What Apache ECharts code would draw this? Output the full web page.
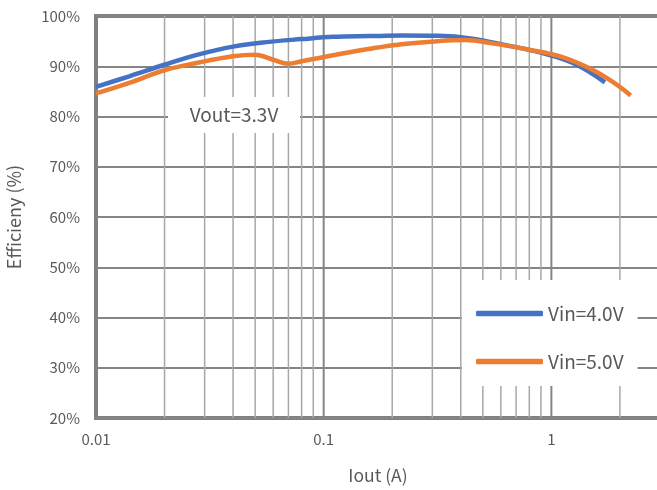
<!DOCTYPE html>
<html>
<head>
<meta charset="utf-8">
<script src="https://cdn.jsdelivr.net/npm/echarts@6/dist/echarts.min.js"></script>
<style>
  html, body { margin: 0; padding: 0; background: #fff; }
  #chart { width: 657px; height: 490px; }
</style>
</head>
<body>
<div id="chart"></div>
<script>
// Output current (A) sample points and efficiency (%) for each input voltage
const iout40 = [0.01, 0.014, 0.02, 0.028, 0.04, 0.056, 0.08, 0.11, 0.16, 0.22, 0.32, 0.45, 0.63, 0.9, 1.25, 1.72];
const eff40  = [85.9, 88.0, 90.3, 92.3, 93.9, 94.8, 95.4, 95.85, 96.0, 96.1, 96.05, 95.5, 94.2, 92.7, 90.6, 86.8];

const iout50 = [0.01, 0.014, 0.02, 0.028, 0.04, 0.05, 0.06, 0.07, 0.08, 0.11, 0.16, 0.22, 0.32, 0.42, 0.56, 0.8, 1.1, 1.5, 1.9, 2.23];
const eff50  = [84.6, 86.7, 89.2, 90.7, 92.0, 92.3, 91.3, 90.5, 91.0, 92.2, 93.5, 94.4, 95.0, 95.2, 94.5, 93.3, 91.9, 89.4, 86.6, 84.2];

const seriesNames = ['Vin=4.0V', 'Vin=5.0V'];

// Log-axis grid positions
const decadeTicks = [0.01, 0.1, 1];
const minorTicks = [0.02, 0.03, 0.04, 0.05, 0.06, 0.07, 0.08, 0.09,
                    0.2, 0.3, 0.4, 0.5, 0.6, 0.7, 0.8, 0.9, 2];
const xTickLabels = ['0.01', '0.1', '1'];

const Y_MIN = 20, Y_MAX = 100;
const FONT = "'Noto Sans CJK JP', 'Noto Sans', sans-serif";
const TEXT_COLOR = '#595959';

const zip = (xs, ys) => xs.map((x, i) => [x, ys[i]]);

const chart = echarts.init(document.getElementById('chart'), null, { renderer: 'canvas' });

// vertical grid lines drawn through the axis scales
function vLine(color, width) {
  return function (params, api) {
    const x = api.value(0);
    const p0 = api.coord([x, Y_MIN]);
    const p1 = api.coord([x, Y_MAX]);
    return {
      type: 'line',
      shape: { x1: p0[0], y1: p0[1], x2: p1[0], y2: p1[1] },
      style: { stroke: color, lineWidth: width },
      silent: true
    };
  };
}

const option = {
  backgroundColor: '#ffffff',
  animation: false,
  textStyle: { fontFamily: FONT },
  grid: {
    left: 96, top: 16, right: -3, bottom: 72,
    outerBoundsMode: 'none',
    show: true,
    borderColor: '#808080',
    borderWidth: 4,
    backgroundColor: 'transparent'
  },
  xAxis: {
    type: 'log',
    logBase: 10,
    min: 0.01,
    max: 3,
    name: 'Iout (A)',
    nameLocation: 'middle',
    nameGap: 49,
    nameTextStyle: { color: TEXT_COLOR, fontSize: 17.5, fontFamily: FONT },
    axisLine: { show: false },
    axisTick: { show: false },
    splitLine: { show: false },
    axisLabel: {
      color: TEXT_COLOR,
      fontSize: 15,
      fontFamily: FONT,
      margin: 14,
      showMaxLabel: false,
      formatter: function (v) {
        const l = Math.log10(v);
        const k = Math.round(l);
        if (Math.abs(l - k) > 1e-6) return '';
        const idx = decadeTicks.findIndex(d => Math.abs(Math.log10(d) - k) < 1e-6);
        return idx >= 0 ? xTickLabels[idx] : '';
      }
    }
  },
  yAxis: {
    type: 'value',
    min: Y_MIN,
    max: Y_MAX,
    interval: 10,
    name: 'Efficieny (%)',
    nameLocation: 'middle',
    nameGap: 73,
    nameRotate: 90,
    nameTextStyle: { color: TEXT_COLOR, fontSize: 18, fontFamily: FONT },
    axisLine: { show: false },
    axisTick: { show: false },
    axisLabel: {
      color: TEXT_COLOR,
      fontSize: 15,
      fontFamily: FONT,
      margin: 16,
      formatter: '{value}%'
    },
    splitLine: { show: true, lineStyle: { color: '#858585', width: 2 } }
  },
  legend: {
    data: seriesNames,
    orient: 'vertical',
    left: 462,
    top: 280,
    padding: [24, 14, 15, 14],
    backgroundColor: '#ffffff',
    itemWidth: 67,
    itemHeight: 5.5,
    itemGap: 29,
    icon: 'roundRect',
    textStyle: { color: TEXT_COLOR, fontSize: 19, fontFamily: FONT },
    z: 5
  },
  graphic: [{
    type: 'rect',
    shape: { x: 168, y: 97, width: 132, height: 36 },
    style: { fill: '#ffffff' },
    z: 5
  }, {
    type: 'text',
    x: 234, y: 115,
    style: {
      text: 'Vout=3.3V',
      fill: TEXT_COLOR,
      font: "19px 'Noto Sans CJK JP', 'Noto Sans', sans-serif",
      align: 'center',
      verticalAlign: 'middle'
    },
    z: 6
  }],
  series: [
    {
      type: 'custom',
      name: 'minor grid',
      renderItem: vLine('#a8a8a8', 1.5),
      data: minorTicks.map(v => [v]),
      encode: { x: 0 },
      silent: true,
      z: 1
    },
    {
      type: 'custom',
      name: 'decade grid',
      renderItem: vLine('#858585', 2),
      data: decadeTicks.slice(1).map(v => [v]),
      encode: { x: 0 },
      silent: true,
      z: 1
    },
    {
      name: seriesNames[0],
      type: 'line',
      data: zip(iout40, eff40),
      smooth: 0.4,
      showSymbol: false,
      lineStyle: { color: '#4472C4', width: 4.5 },
      itemStyle: { color: '#4472C4' },
      z: 10
    },
    {
      name: seriesNames[1],
      type: 'line',
      data: zip(iout50, eff50),
      smooth: 0.4,
      showSymbol: false,
      lineStyle: { color: '#ED7D31', width: 4.5 },
      itemStyle: { color: '#ED7D31' },
      z: 11
    }
  ]
};

chart.setOption(option);
</script>
</body>
</html>
